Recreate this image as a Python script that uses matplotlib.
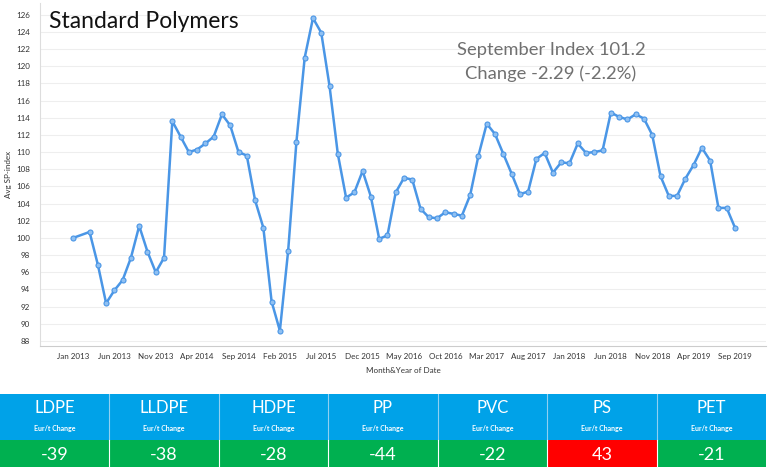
import matplotlib
matplotlib.use("Agg")
import matplotlib.pyplot as plt
import numpy as np
from matplotlib.patches import Rectangle

plt.rcParams["font.family"] = ["Lato", "DejaVu Sans"]

# monthly index, Jan 2013 = 0 (Feb 2013 has no value)
month_idx = [0] + list(range(2, 81))
sp_index = [
    100.0, 100.7, 96.9, 92.4, 93.9, 95.1, 97.7, 101.4, 98.4, 96.0, 97.7,        # 2013
    113.6, 111.8, 110.0, 110.3, 111.0, 111.8, 114.4, 113.1, 110.0, 109.6, 104.4, 101.2,  # 2014
    92.6, 89.2, 98.5, 111.2, 121.0, 125.6, 123.9, 117.7, 109.8, 104.7, 105.3, 107.8,     # 2015
    104.8, 99.9, 100.3, 105.3, 107.0, 106.8, 103.4, 102.4, 102.3, 103.0, 102.8, 102.6,   # 2016
    105.0, 109.6, 113.3, 112.1, 109.8, 107.5, 105.1, 105.4, 109.2, 109.9, 107.6, 108.8,  # 2017
    108.7, 111.0, 109.9, 110.0, 110.2, 114.6, 114.1, 113.8, 114.4, 113.9, 112.0, 107.2,  # 2018
    104.9, 104.9, 106.9, 108.5, 110.5, 109.0, 103.5, 103.5, 101.2,                       # 2019
]
tick_idx = list(range(0, 81, 5))
tick_labels = ["Jan 2013", "Jun 2013", "Nov 2013", "Apr 2014", "Sep 2014", "Feb 2015",
               "Jul 2015", "Dec 2015", "May 2016", "Oct 2016", "Mar 2017", "Aug 2017",
               "Jan 2018", "Jun 2018", "Nov 2018", "Apr 2019", "Sep 2019"]

polymers = ["LDPE", "LLDPE", "HDPE", "PP", "PVC", "PS", "PET"]
eur_change = [-39, -38, -28, -44, -22, 43, -21]

W, H = 768, 468
fig = plt.figure(figsize=(W / 100, H / 100), dpi=100)

# line chart
ax = fig.add_axes([40 / W, (H - 346) / H, (766 - 40) / W, (346 - 3) / H])
ax.plot(month_idx, sp_index, color="#4a96e6", lw=1.8, marker="o", ms=3.6,
        mfc="#8fc0f2", mec="#4a96e6", mew=0.8, zorder=3)
ax.set_xlim(-3.99, 83.75)
ax.set_ylim(87.42, 127.36)
ax.set_yticks(np.arange(88, 127, 2))
ax.set_xticks(tick_idx)
ax.set_xticklabels(tick_labels)
ax.tick_params(axis="both", length=0, labelsize=5.8, colors="#333333")
ax.tick_params(axis="x", pad=5)
ax.tick_params(axis="y", pad=7)
ax.grid(axis="y", color="#eeeeee", lw=0.8)
ax.set_axisbelow(True)
for s in ["top", "right"]:
    ax.spines[s].set_visible(False)
ax.spines["left"].set_color("#dddddd")
ax.spines["bottom"].set_color("#cccccc")
ax.set_ylabel("Avg SP-index", fontsize=5.8, color="#333333", labelpad=3)
ax.set_xlabel("Month&Year of Date", fontsize=5.8, color="#333333", labelpad=5)

fig.text(49 / W, 1 - 22 / H, "Standard Polymers", fontsize=16.5, color="#111111",
         va="center", ha="left")
fig.text(551 / W, 1 - 50 / H, "September Index 101.2", fontsize=13.2,
         color="#707070", ha="center", va="center")
fig.text(551 / W, 1 - 74 / H, "Change -2.29 (-2.2%)", fontsize=13.2,
         color="#707070", ha="center", va="center")

# summary table
tab = fig.add_axes([0, 0, 1, 74 / H])
tab.set_xlim(0, W)
tab.set_ylim(0, 74)
tab.axis("off")
col_w = 766 / len(polymers)
for i, (name, val) in enumerate(zip(polymers, eur_change)):
    x0 = i * col_w
    tab.add_patch(Rectangle((x0, 28), col_w, 46, color="#00a2e8", lw=0))
    low = "#ff0000" if val > 0 else "#00b050"
    tab.add_patch(Rectangle((x0, 1), col_w, 27, color=low, lw=0))
    if i > 0:
        tab.plot([x0, x0], [28, 74], color="#8fd0f2", lw=0.8)
        tab.plot([x0, x0], [1, 28], color="#ffffff", lw=0.8)
    cx = x0 + col_w / 2
    tab.text(cx, 60, name, color="white", fontsize=12, ha="center", va="center")
    tab.text(cx, 39, "Eur/t Change", color="white", fontsize=5, ha="center",
             va="center", fontweight="bold")
    tab.text(cx, 13.5, f"{val}", color="white", fontsize=13, ha="center", va="center")

fig.savefig("out.png", dpi=100)
